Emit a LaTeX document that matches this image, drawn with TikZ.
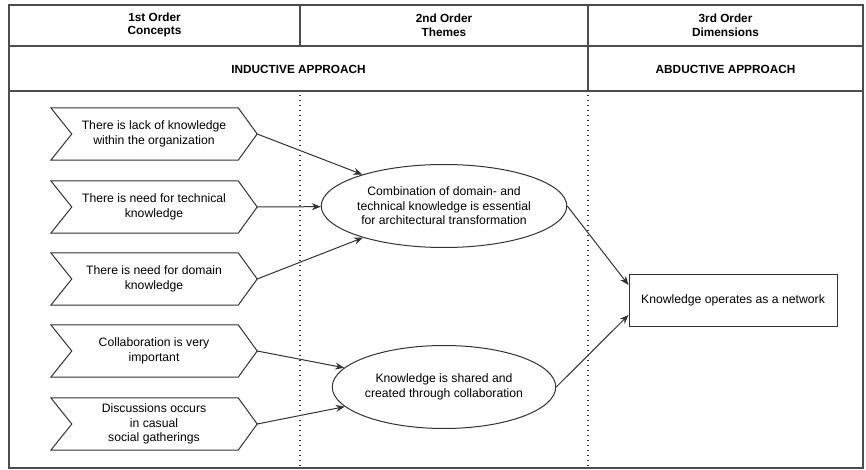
\documentclass[tikz,border=0pt]{standalone}
\usepackage{fontspec}
\setmainfont{Liberation Sans}
\usetikzlibrary{arrows.meta,calc,shapes.geometric}
\definecolor{ln}{HTML}{333333}
\definecolor{fr}{HTML}{4d4d4d}
\begin{document}
\begin{tikzpicture}[x=1pt,y=-1pt,
  every node/.style={font=\fontsize{12.2}{14.6}\selectfont, text=black},
  hdr/.style={font=\bfseries\fontsize{11.8}{13.6}\selectfont, align=center},
  chevbox/.style={minimum width=206pt, minimum height=52pt, inner sep=0pt, align=center},
  chevline/.style={draw=ln, line width=1pt, line join=miter},
  oval/.style={ellipse, draw=ln, line width=1pt, minimum width=208pt, minimum height=83pt, inner sep=0pt, align=center},
  boxnode/.style={draw=ln, line width=1pt, minimum width=208pt, minimum height=52pt, inner sep=0pt},
  frameline/.style={draw=fr, line width=1.8pt},
  divline/.style={draw=ln, line width=1.3pt, dash pattern=on 1.3pt off 3.7pt},
  conn/.style={draw=ln, line width=1pt, -{Stealth[length=9pt,width=7pt]}}
]
\useasboundingbox (0,0) rectangle (866,470);
\fill[white] (0,0) rectangle (866,470);
% frame
\draw[frameline] (9,5) rectangle (863,468);
\draw[frameline] (9,46) -- (863,46);
\draw[frameline] (9,91) -- (863,91);
\draw[frameline] (300,5) -- (300,46);
\draw[frameline] (588,5) -- (588,91);
% header texts
\node[hdr] (h1) at (154.5,25) {1st Order\\Concepts};
\node[hdr] (h2) at (444,25) {2nd Order\\Themes};
\node[hdr] (h3) at (725.5,25) {3rd Order\\Dimensions};
\node[hdr] (a1) at (298.5,69) {INDUCTIVE APPROACH};
\node[hdr] (a2) at (725.5,69) {ABDUCTIVE APPROACH};
% dotted dividers
\draw[divline] (300,95) -- (300,467);
\draw[divline] (588,95) -- (588,467);
% chevrons
\node[chevbox] (c1) at (154,134) {There is lack of knowledge\\within the organization};
\node[chevbox] (c2) at (154,207) {There is need for technical\\knowledge};
\node[chevbox] (c3) at (154,279) {There is need for domain\\knowledge};
\node[chevbox] (c4) at (154,351) {Collaboration is very\\important};
\node[chevbox] (c5) at (154,424) {Discussions occurs\\in casual\\social gatherings};
\foreach \n in {c1,c2,c3,c4,c5}{
  \draw[chevline] (\n.north west) -- ([xshift=-19pt]\n.north east) -- (\n.east)
     -- ([xshift=-19pt]\n.south east) -- (\n.south west) -- ([xshift=21pt]\n.west) -- cycle;
}
% ellipses
\node[oval] (e1) at (444,206) {Combination of domain- and\\technical knowledge is essential\\for architectural transformation};
\node[oval] (e2) at (444,387) {Knowledge is shared and\\created through collaboration};
% box
\node[boxnode] (r) at (733,300) {Knowledge operates as a network};
% connectors
\draw[conn] (c1.east) -- (e1);
\draw[conn] (c2.east) -- (e1);
\draw[conn] (c3.east) -- (e1);
\draw[conn] (c4.east) -- (e2);
\draw[conn] (c5.east) -- (e2);
\draw[conn] (e1.east) -- ([yshift=15pt]r.west);
\draw[conn] (e2.east) -- ([yshift=-15pt]r.west);
\end{tikzpicture}
\end{document}
